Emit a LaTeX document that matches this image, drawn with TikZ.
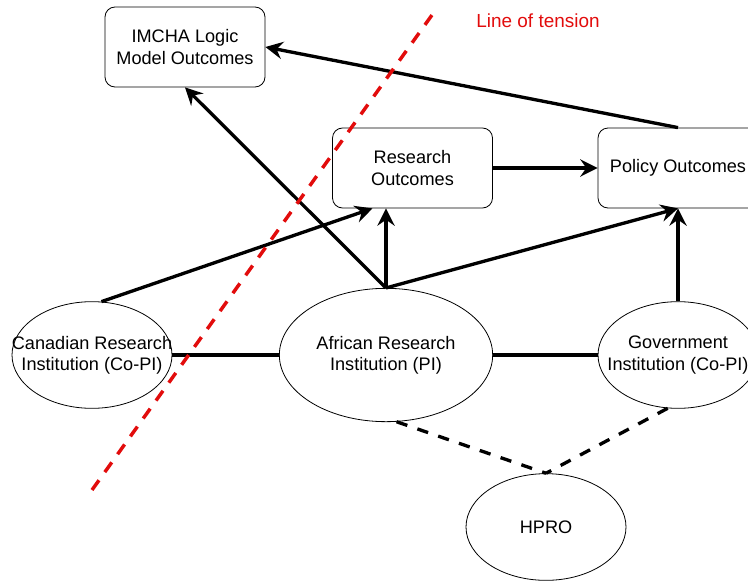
\documentclass[tikz,border=0pt]{standalone}
\usepackage{fontspec}
\setmainfont{Liberation Sans}
\usetikzlibrary{arrows.meta,shapes.geometric}
\definecolor{tensionred}{RGB}{226,12,12}

\begin{document}
\begin{tikzpicture}[x=0.75pt,y=-0.75pt,font=\fontsize{13.6}{16}\selectfont,
  outbox/.style={draw,rounded corners=7.5pt,line width=0.6pt,minimum width=120pt,minimum height=60pt,align=center,inner sep=1pt},
  inst/.style={draw,ellipse,line width=0.6pt,align=center,inner xsep=-20pt,inner ysep=0pt,minimum width=120pt,minimum height=80pt},
  link/.style={line width=2.5pt},
  arr/.style={link,-{Stealth[length=13pt,width=13pt,inset=4.5pt]}},
  tie/.style={line width=2.5pt,dash pattern=on 8.5pt off 8pt},
  tensionline/.style={tensionred,line width=2.6pt,dash pattern=on 9pt off 7.5pt}]
\useasboundingbox (0,0) rectangle (748,581);
\node[outbox] (imcha) at (185,47) {IMCHA Logic\\Model Outcomes};
\node[outbox] (research) at (412.5,168) {Research\\Outcomes};
\node[outbox] (policy) at (678,168) {Policy Outcomes};
\node[inst] (canadian) at (92,355) {Canadian Research\\Institution (Co-PI)};
\node[inst,minimum width=160pt,minimum height=100pt] (african) at (386,355) {African Research\\Institution (PI)};
\node[inst] (government) at (678,355) {Government\\Institution (Co-PI)};
\node[inst] (hpro) at (546,527) {HPRO};
\node[text=tensionred,font=\fontsize{14.2}{16}\selectfont] (tensionlabel) at (538,21) {Line of tension};
\coordinate (tlow) at (92,490);
\coordinate (thigh) at (437,8);
\draw[arr] (policy.north) -- (imcha.east);
\draw[arr] (african.north) -- (imcha.south);
\draw[arr] (african.north) -- (african.north |- research.south);
\draw[arr] (african.north) -- (policy.south);
\draw[arr] (canadian.80) -- ([xshift=-30pt]research.south);
\draw[arr] (research.east) -- (policy.west);
\draw[arr] (government.north) -- (policy.south);
\draw[link] (canadian) -- (african);
\draw[link] (african) -- (government);
\draw[tie] (african.-81) -- (hpro.north);
\draw[tie] (government.-101) -- (hpro.north);
\draw[tensionline] (tlow) -- (thigh);
\end{tikzpicture}
\end{document}
